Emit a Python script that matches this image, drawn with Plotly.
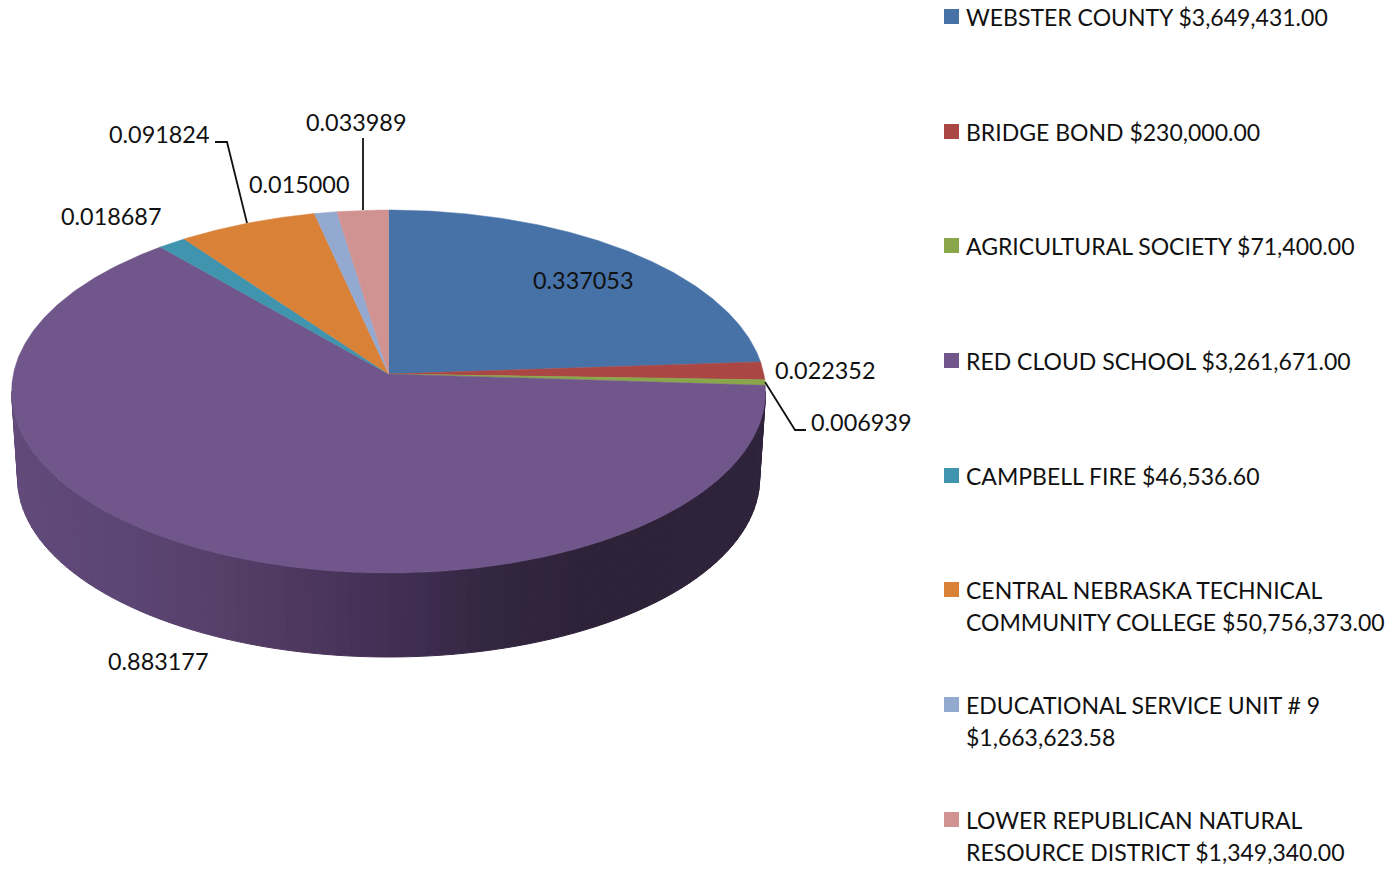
import math
import plotly.graph_objects as go

# ---- data ----
labels = [
    "WEBSTER COUNTY $3,649,431.00",
    "BRIDGE BOND $230,000.00",
    "AGRICULTURAL SOCIETY $71,400.00",
    "RED CLOUD SCHOOL $3,261,671.00",
    "CAMPBELL FIRE $46,536.60",
    "CENTRAL NEBRASKA TECHNICAL<br>COMMUNITY COLLEGE $50,756,373.00",
    "EDUCATIONAL SERVICE UNIT # 9<br>$1,663,623.58",
    "LOWER REPUBLICAN NATURAL<br>RESOURCE DISTRICT $1,349,340.00",
]
values = [0.337053, 0.022352, 0.006939, 0.883177, 0.018687, 0.091824, 0.015000, 0.033989]
colors = ["#4672A8", "#AA4644", "#8AA64B", "#70568B", "#4094AD", "#DA8138", "#93A9CF", "#D09392"]

# ---- layout constants ----
W, H = 1395, 875
FONT = "Lato"
LABEL_SIZE = 23.4
LEGEND_SIZE = 23
APEX = (388.6, 374)
TILT_K, SCALE_Y, SCALE_X = 0.0964, 179.8, 375.2
TOP_ELLIPSE = (388.6, 391.5, 377, 181.5)
BOTTOM_ELLIPSE = (388.6, 478.4, 371, 178.6)
WALL_STOPS = [(17, "#624B7A"), (100, "#5D4776"), (200, "#58416C"), (300, "#4E3860"),
              (400, "#412F53"), (500, "#33263F"), (600, "#2E2239"), (760, "#2F243B")]
LABEL_POS = [(583, 280), (825, 370), (861, 422), (158, 661), (111, 216), (159, 134), (299, 184), (356, 122)]
LEADERS = [[(765, 382), (795, 430), (806, 430)],
           [(215, 142), (227, 142), (247, 223)],
           [(363, 138), (363, 210)]]
LEGEND_X, LEGEND_TEXT_X = 951.5, 963.5
LEGEND_Y = [16.5, 131.5, 245.5, 360.5, 475.5, 589.5, 704.5, 819.5]
LINE_GAP = 32


def rim(theta):
    """Perspective position of the disc rim; theta runs clockwise from the top."""
    u, v = math.sin(theta), math.cos(theta)
    d = 1 + TILT_K * v
    return APEX[0] + SCALE_X * u / d, APEX[1] - SCALE_Y * v / d


def hex2rgb(c):
    return [int(c[i:i + 2], 16) for i in (1, 3, 5)]


def wall_color(x):
    for (x0, c0), (x1, c1) in zip(WALL_STOPS, WALL_STOPS[1:]):
        if x <= x1:
            f = max(0, (x - x0) / (x1 - x0))
            a, b = hex2rgb(c0), hex2rgb(c1)
            return "rgb(%d,%d,%d)" % tuple(a[i] + (b[i] - a[i]) * f for i in range(3))
    return WALL_STOPS[-1][1]


fig = go.Figure()

# side wall, as narrow strips so the shading can change along it
N = 90
for i in range(N):
    t0 = math.pi + math.pi * i / N
    t1 = math.pi + math.pi * (i + 1) / N
    xs, ys = [], []
    for t, e in ((t0, TOP_ELLIPSE), (t1, TOP_ELLIPSE), (t1, BOTTOM_ELLIPSE), (t0, BOTTOM_ELLIPSE)):
        xs.append(e[0] + e[2] * math.cos(t))
        ys.append(e[1] - e[3] * math.sin(t))
    c = wall_color((xs[0] + xs[1]) / 2)
    fig.add_trace(go.Scatter(x=xs + xs[:1], y=ys + ys[:1], mode="lines", fill="toself",
                             fillcolor=c, line=dict(color=c, width=1),
                             hoverinfo="skip", showlegend=False))

# top face wedges, angles taken from the values
total = sum(values)
acc = 0.0
for name, val, col in zip(labels, values, colors):
    a0 = 2 * math.pi * acc / total
    acc += val
    a1 = 2 * math.pi * acc / total
    steps = max(2, int((a1 - a0) / 0.01))
    pts = [rim(a0 + (a1 - a0) * k / steps) for k in range(steps + 1)]
    xs = [APEX[0]] + [p[0] for p in pts] + [APEX[0]]
    ys = [APEX[1]] + [p[1] for p in pts] + [APEX[1]]
    fig.add_trace(go.Scatter(x=xs, y=ys, mode="lines", fill="toself", fillcolor=col,
                             line=dict(color=col, width=0.5), name=name.replace("<br>", " "),
                             hoverinfo="name", showlegend=False))

# leader lines
for pts in LEADERS:
    fig.add_trace(go.Scatter(x=[p[0] for p in pts], y=[p[1] for p in pts], mode="lines",
                             line=dict(color="#111111", width=1.8), hoverinfo="skip", showlegend=False))

# legend swatches
fig.add_trace(go.Scatter(x=[LEGEND_X] * len(labels), y=LEGEND_Y, mode="markers",
                         marker=dict(symbol="square", size=15, color=colors, line=dict(width=0)),
                         hoverinfo="skip", showlegend=False))

ann = []
for val, (x, y) in zip(values, LABEL_POS):
    ann.append(dict(x=x, y=y, text=f"{val:.6f}", showarrow=False, xanchor="center", yanchor="middle",
                    font=dict(size=LABEL_SIZE)))
for name, y in zip(labels, LEGEND_Y):
    for k, line in enumerate(name.split("<br>")):
        ann.append(dict(x=LEGEND_TEXT_X, y=y + k * LINE_GAP, text=line, showarrow=False,
                        xanchor="left", yanchor="middle", align="left", font=dict(size=LEGEND_SIZE)))

fig.update_layout(
    width=W, height=H, margin=dict(l=0, r=0, t=0, b=0), autosize=False,
    paper_bgcolor="white", plot_bgcolor="white",
    font=dict(family=FONT, size=LEGEND_SIZE, color="#111111"),
    xaxis=dict(range=[0, W], visible=False, fixedrange=True),
    yaxis=dict(range=[H, 0], visible=False, fixedrange=True),
    annotations=ann, showlegend=False,
)
fig.write_html("out.html", config={"displayModeBar": False},
               post_script="document.body.style.margin='0';document.body.style.overflow='hidden';")
